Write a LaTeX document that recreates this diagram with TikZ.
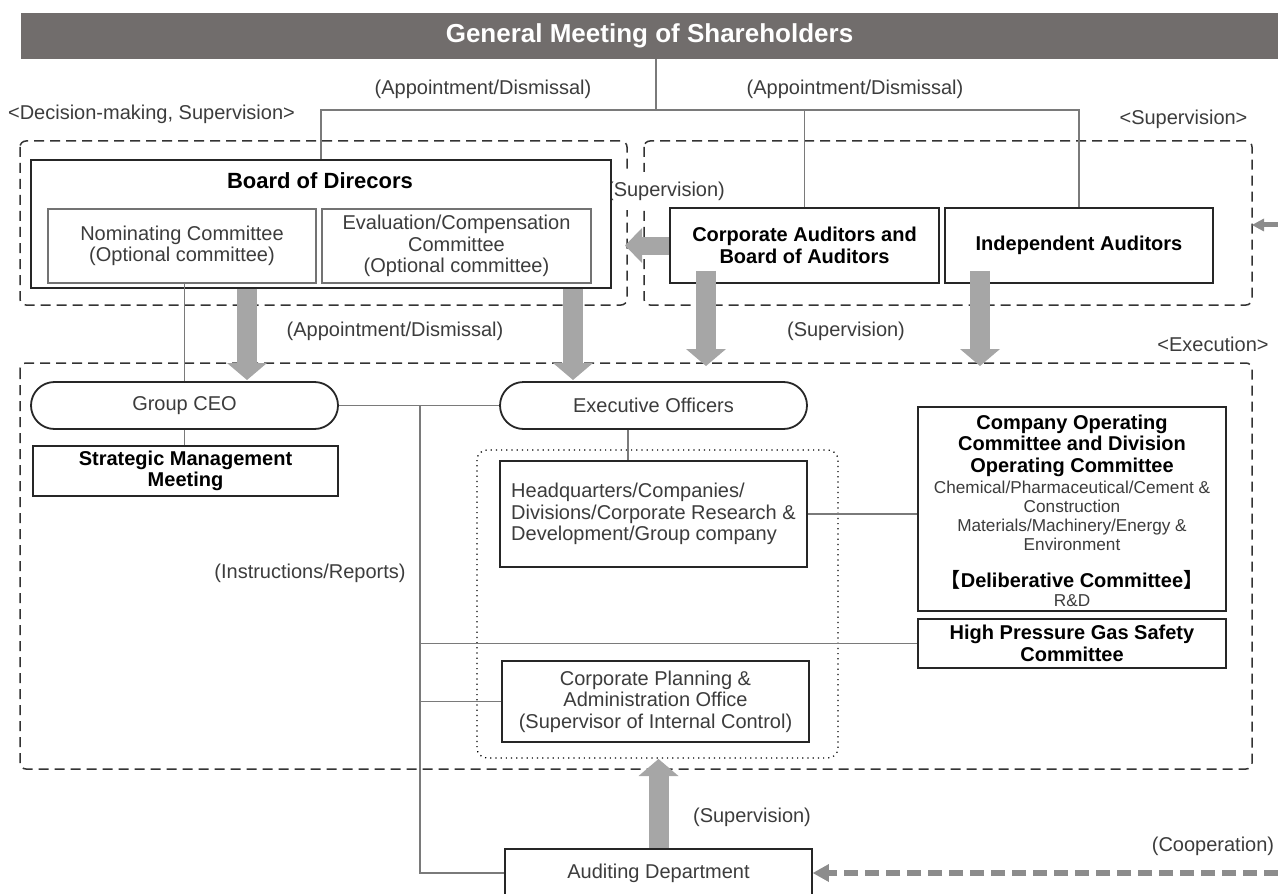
\documentclass[tikz,border=0pt]{standalone}
\usepackage{fontspec}
\setmainfont{Liberation Sans}
\newfontfamily\cjkfont{Noto Sans CJK JP}
\usetikzlibrary{arrows.meta}
\definecolor{bargray}{HTML}{716D6C}
\definecolor{arrowgray}{HTML}{A6A6A6}
\definecolor{linegray}{HTML}{7A7A7A}
\definecolor{textgray}{HTML}{3C3C3C}

\begin{document}
\begin{tikzpicture}[x=0.5pt, y=-0.5pt,
        every node/.style={inner sep=0pt, align=center, text=textgray, font=\fontsize{10}{10.75}\selectfont},
        box/.style={draw=black!85, line width=0.9pt, fill=white},
        subbox/.style={draw=black!55, line width=0.7pt, fill=white},
        pill/.style={draw=black!85, line width=0.9pt, fill=white, rounded corners=11.75pt, minimum width=153.5pt, minimum height=23.5pt},
        strong/.style={text=black, font=\fontsize{10}{10.75}\selectfont\bfseries},
        small/.style={font=\fontsize{8.6}{9.5}\selectfont},
        link/.style={draw=linegray, line width=0.7pt},
        frame/.style={draw=black!80, line width=0.75pt, dash pattern=on 5pt off 3pt, rounded corners=3pt},
        bigarrow/.style={draw=arrowgray, line width=10pt, -{Triangle[width=20pt, length=8.5pt, line width=0pt]}},
        thinarrow/.style={draw=black!45, line width=2.5pt, -{Triangle[width=6.5pt, length=6pt, line width=0pt]}},
        ]
        % Corporate governance structure: supervision, decision-making and execution
        \useasboundingbox (0,0) rectangle (1278,893);
        \coordinate (split) at (656,110);
        \coordinate (eodrop) at (628,429);
        \coordinate (trunk) at (420,405.5);
        \coordinate (a1) at (247,380);
        \coordinate (a2) at (573,380);
        \coordinate (a3) at (706,366);
        \coordinate (a4) at (980,366);
        \coordinate (suptip) at (625,245.5);
        \coordinate (dotbot) at (658.5,759);
        \coordinate (edgein) at (1278,225);
        \coordinate (edgetip) at (1252,225);
        \coordinate (edgecoop) at (1278,873);
        \draw[frame] (20,141) rectangle (627,305);
        \draw[frame] (644,141) rectangle (1252,305);
        \draw[frame] (20,363) rectangle (1252,769);
        \draw[dotted, line width=0.6pt, rounded corners=5pt] (477,450) rectangle (838,758);
        \node[fill=white, inner xsep=1pt, inner ysep=5pt] (supboard) at (666,191) {(Supervision)};
        \node[fill=bargray, text=white, font=\fontsize{13}{14}\selectfont\bfseries, minimum width=628.5pt, minimum height=23pt] (gms) at (649.5,36) {General Meeting of Shareholders};
        \node[box, minimum width=290pt, minimum height=64pt] (board) at (321,224) {};
        \node[strong, font=\fontsize{11}{12}\selectfont\bfseries] (boardtitle) at (320,181) {Board of Direcors};
        \node[subbox, minimum width=134pt, minimum height=37pt] (nomcom) at (182,246) {Nominating Committee\\(Optional committee)};
        \node[subbox, minimum width=134.5pt, minimum height=37pt] (evalcom) at (456.5,246) {Evaluation/Compensation\\Committee\\(Optional committee)};
        \node[box, strong, minimum width=134.5pt, minimum height=37.5pt] (corpaud) at (804.5,245.5) {Corporate Auditors and\\Board of Auditors};
        \node[box, strong, minimum width=134pt, minimum height=37.5pt] (indaud) at (1079,245.5) {Independent Auditors};
        \node[pill] (ceo) at (184.5,405.5) {Group CEO};
        \node[pill] (execoff) at (653.5,405.5) {Executive Officers};
        \node[box, strong, minimum width=152.5pt, minimum height=25pt] (strategic) at (185.5,471) {Strategic Management\\Meeting};
        \node[box, align=left, minimum width=153.5pt, minimum height=53pt] (hq) at (653.5,514) {Headquarters/Companies/\\Divisions/Corporate Research \&\\Development/Group company};
        \node[box, minimum width=153.5pt, minimum height=40.5pt] (planning) at (655.5,701.5) {Corporate Planning \&\\Administration Office\\(Supervisor of Internal Control)};
        \node[box, minimum width=153.5pt, minimum height=24pt] (auditing) at (658.5,873) {Auditing Department};
        \node[box, minimum width=154pt, minimum height=102pt] (compop) at (1072,509) {};
        \node[strong] (compoptitle) at (1072,445.5) {Company Operating\\Committee and Division\\Operating Committee};
        \node[small] (compopbody) at (1072,515.5) {Chemical/Pharmaceutical/Cement \&\\Construction\\Materials/Machinery/Energy \&\\Environment};
        \node[strong] (delib) at (1072,580) {{\cjkfont 【}Deliberative Committee{\cjkfont 】}};
        \node[small] (rnd) at (1072,601) {R\&D};
        \node[box, strong, minimum width=154pt, minimum height=24.5pt] (highpg) at (1072,643.5) {High Pressure Gas Safety\\Committee};
        \node (appleft) at (483,89) {(Appointment/Dismissal)};
        \node (appright) at (855,89) {(Appointment/Dismissal)};
        \node (decsup) at (151.5,114) {<Decision-making, Supervision>};
        \node (supgroup) at (1183.5,119) {<Supervision>};
        \node (appmid) at (395,331) {(Appointment/Dismissal)};
        \node (supmid) at (846,331) {(Supervision)};
        \node (execgroup) at (1213,344) {<Execution>};
        \node (instr) at (310,573) {(Instructions/Reports)};
        \node (supaudit) at (752,817) {(Supervision)};
        \node (coop) at (1213,846) {(Cooperation)};
        \draw[link] (gms.south -| split) -- (split) -| (board.north);
        \draw[link] (split) -| (indaud.north);
        \draw[link] (corpaud.north) -- (corpaud.north |- split);
        \draw[link] (ceo.north) -- (ceo.north |- nomcom.south);
        \draw[link] (ceo.south) -- (ceo.south |- strategic.north);
        \draw[link] (ceo.east) -- (execoff.west);
        \draw[link] (trunk) |- (auditing.west);
        \draw[link] (trunk |- highpg.west) -- (highpg.west);
        \draw[link] (trunk |- planning.west) -- (planning.west);
        \draw[link] (execoff.south -| eodrop) -- (hq.north -| eodrop);
        \draw[link] (hq.east) -- (hq.east -| compop.west);
        \draw[bigarrow] (board.south -| a1) -- (a1);
        \draw[bigarrow] (board.south -| a2) -- (a2);
        \draw[bigarrow] ([yshift=6.5pt]corpaud.south -| a3) -- (a3);
        \draw[bigarrow] ([yshift=6.5pt]indaud.south -| a4) -- (a4);
        \draw[bigarrow, line width=9pt, -{Triangle[width=17.5pt, length=8.5pt, line width=0pt]}] (corpaud.west) -- (suptip);
        \draw[bigarrow] (auditing.north) -- (dotbot);
        \draw[thinarrow] (edgein) -- (edgetip);
        \draw[thinarrow, line width=3pt, dash pattern=on 7pt off 3.5pt, -{Triangle[width=9pt, length=8pt, line width=0pt]}] (edgecoop) -- (auditing.east);
    \end{tikzpicture}
\end{document}
